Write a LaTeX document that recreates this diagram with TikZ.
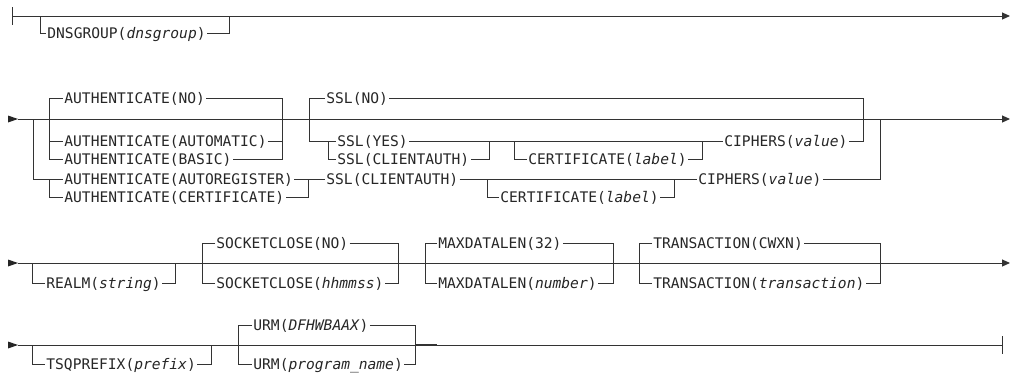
\documentclass[tikz,border=0pt]{standalone}
\usepackage{fontspec}
\newfontfamily\diagfont{DejaVu Sans Mono}
\usetikzlibrary{arrows.meta}
\tikzset{
  rail/.style={draw=black!80, line width=1pt},
  endarrow/.style={rail, -{Triangle[length=8pt,width=7pt]}},
  kw/.style={font=\diagfont\fontsize{14.6}{16}\selectfont, text=black!85, anchor=west,
    inner xsep=1.2pt, inner ysep=0pt, text height=10.6pt, text depth=0pt},
  startmark/.style={fill=black!85},
}
\begin{document}
\begin{tikzpicture}[x=1pt,y=-1pt]
\useasboundingbox (0,0) rectangle (1013,375);
% ---------------- Row 1 ----------------
\coordinate (r1s) at (12,16);
\coordinate (r1e) at (1010,16);
\draw[rail] (12,7) -- (12,25);
\draw[endarrow] (r1s) -- (r1e);
\node[kw] (dns) at (46,33) {DNSGROUP(\textit{dnsgroup})};
\draw[rail] (40,16) |- (dns.west);
\draw[rail] (dns.east) -| (229,16);
% ---------------- Row 2 ----------------
\coordinate (r2s) at (18,119);
\coordinate (r2e) at (1010,119);
\fill[startmark] (8,115.5) -- (r2s) -- (8,122.5) -- cycle;
\draw[endarrow] (r2s) -- (r2e);
% AUTHENTICATE
\node[kw] (aNO)  at (63,98)  {AUTHENTICATE(NO)};
\node[kw] (aAUT) at (63,141) {AUTHENTICATE(AUTOMATIC)};
\node[kw] (aBAS) at (63,159) {AUTHENTICATE(BASIC)};
\node[kw] (aREG) at (63,179) {AUTHENTICATE(AUTOREGISTER)};
\node[kw] (aCER) at (63,197) {AUTHENTICATE(CERTIFICATE)};
\coordinate (aiL) at (49,159);
\coordinate (aiR) at (282,159);
\draw[rail] (aNO.west) -| (aiL) -- (aBAS.west);
\draw[rail] (aAUT.west -| aiL) -- (aAUT.west);
\draw[rail] (aNO.east) -| (aiR) -- (aBAS.east);
\draw[rail] (aAUT.east) -- (aAUT.east -| aiR);
\coordinate (aoL) at (33,119);
\coordinate (aoR) at (308,197);
\draw[rail] (aoL) |- (aREG.west);
\draw[rail] (aREG.west -| aiL) |- (aCER.west);
\draw[rail] (aREG.east) -| (aoR) -- (aCER.east);
% SSL upper
\node[kw] (sNO)  at (325,98)  {SSL(NO)};
\node[kw] (sYES) at (336,141) {SSL(YES)};
\node[kw] (sCL1) at (336,159) {SSL(CLIENTAUTH)};
\node[kw] (cer1) at (527,159) {CERTIFICATE(\textit{label})};
\node[kw] (cip1) at (723,141) {CIPHERS(\textit{value})};
\coordinate (sL) at (309,141);
\coordinate (sR) at (863,141);
\draw[rail] (sNO.west) -| (sL) -- (sYES.west);
\draw[rail] (328,141) |- (sCL1.west);
\draw[rail] (sYES.east) -| (489,159) -- (sCL1.east);
\draw[rail] (489,141) -- (cip1.west);
\draw[rail] (514,141) |- (cer1.west);
\draw[rail] (cer1.east) -| (702,141);
\draw[rail] (sNO.east) -| (sR) -- (cip1.east);
% SSL lower
\node[kw] (sCL2) at (325,179) {SSL(CLIENTAUTH)};
\node[kw] (cer2) at (499,197) {CERTIFICATE(\textit{label})};
\node[kw] (cip2) at (697,179) {CIPHERS(\textit{value})};
\draw[rail] (aREG.east -| aoR) -- (sCL2.west);
\draw[rail] (sCL2.east) -- (cip2.west);
\draw[rail] (487,179) |- (cer2.west);
\draw[rail] (cer2.east) -| (674,179);
\draw[rail] (cip2.east) -| (880,119);
% ---------------- Row 3 ----------------
\coordinate (r3s) at (18,263);
\coordinate (r3e) at (1010,263);
\fill[startmark] (8,259.5) -- (r3s) -- (8,266.5) -- cycle;
\draw[endarrow] (r3s) -- (r3e);
\node[kw] (realm) at (45,283) {REALM(\textit{string})};
\draw[rail] (32,263) |- (realm.west);
\draw[rail] (realm.east) -| (175,263);
\node[kw] (scNO) at (215,243) {SOCKETCLOSE(NO)};
\node[kw] (scHH) at (215,283) {SOCKETCLOSE(\textit{hhmmss})};
\draw[rail] (scNO.west) -| (202,283) -- (scHH.west);
\draw[rail] (scNO.east) -| (398,283) -- (scHH.east);
\node[kw] (mx32) at (437,243) {MAXDATALEN(32)};
\node[kw] (mxN)  at (437,283) {MAXDATALEN(\textit{number})};
\draw[rail] (mx32.west) -| (425,283) -- (mxN.west);
\draw[rail] (mx32.east) -| (613,283) -- (mxN.east);
\node[kw] (trC) at (652,243) {TRANSACTION(CWXN)};
\node[kw] (trT) at (652,283) {TRANSACTION(\textit{transaction})};
\draw[rail] (trC.west) -| (639,283) -- (trT.west);
\draw[rail] (trC.east) -| (880,283) -- (trT.east);
% ---------------- Row 4 ----------------
\coordinate (r4s) at (18,345);
\coordinate (r4e) at (1002,345);
\fill[startmark] (8,341.5) -- (r4s) -- (8,348.5) -- cycle;
\draw[rail] (r4s) -- (r4e);
\draw[rail] (1002,336) -- (1002,354);
\node[kw] (tsq) at (45,364) {TSQPREFIX(\textit{prefix})};
\draw[rail] (32,345) |- (tsq.west);
\draw[rail] (tsq.east) -| (211,345);
\node[kw] (urmD) at (252,325) {URM(\textit{DFHWBAAX})};
\node[kw] (urmP) at (252,364) {URM(\textit{program\_name})};
\draw[rail] (urmD.west) -| (238,364) -- (urmP.west);
\draw[rail] (urmD.east) -| (415,364) -- (urmP.east);
\draw[rail, line width=1.6pt] (415,345) -- (437,345);
\end{tikzpicture}
\end{document}
